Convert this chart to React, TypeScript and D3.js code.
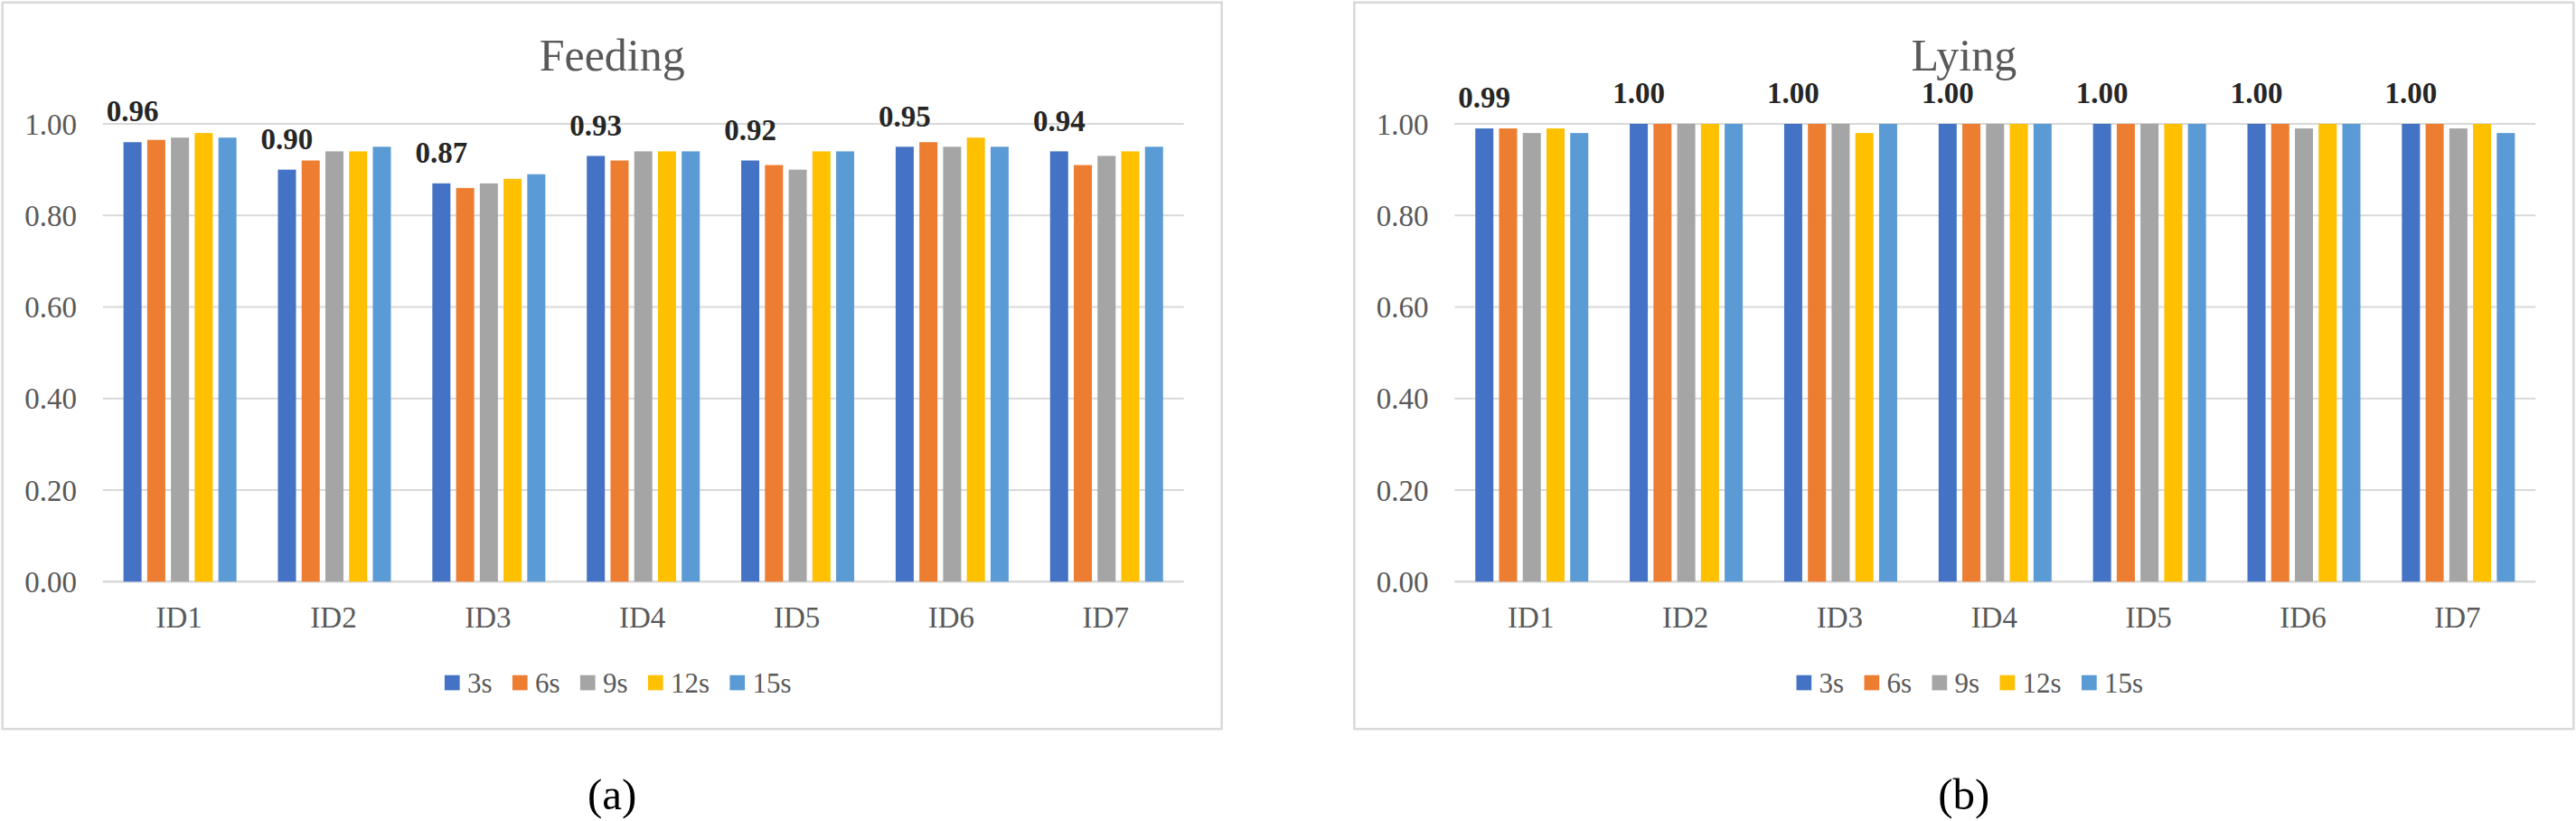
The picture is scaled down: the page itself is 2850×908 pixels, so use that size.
import React from "react";
import * as d3 from "d3";

const categories = ["ID1", "ID2", "ID3", "ID4", "ID5", "ID6", "ID7"];
const seriesNames = ["3s", "6s", "9s", "12s", "15s"];
const seriesColors = ["#4472C4", "#ED7D31", "#A5A5A5", "#FFC000", "#5B9BD5"];
const yTicks = [0, 0.2, 0.4, 0.6, 0.8, 1.0];

const feeding3s = [0.96, 0.9, 0.87, 0.93, 0.92, 0.95, 0.94];
const feeding6s = [0.965, 0.92, 0.86, 0.92, 0.91, 0.96, 0.91];
const feeding9s = [0.97, 0.94, 0.87, 0.94, 0.9, 0.95, 0.93];
const feeding12s = [0.98, 0.94, 0.88, 0.94, 0.94, 0.97, 0.94];
const feeding15s = [0.97, 0.95, 0.89, 0.94, 0.94, 0.95, 0.95];

const lying3s = [0.99, 1, 1, 1, 1, 1, 1];
const lying6s = [0.99, 1, 1, 1, 1, 1, 1];
const lying9s = [0.98, 1, 1, 1, 1, 0.99, 0.99];
const lying12s = [0.99, 1, 0.98, 1, 1, 1, 1];
const lying15s = [0.98, 1, 1, 1, 1, 1, 0.98];

const panels = [
  { title: "Feeding", caption: "(a)", ox: 2.7, series: [feeding3s, feeding6s, feeding9s, feeding12s, feeding15s] },
  { title: "Lying", caption: "(b)", ox: 1498.3, series: [lying3s, lying6s, lying9s, lying12s, lying15s] },
];

const FONT = "'Liberation Serif', 'Times New Roman', serif";

function Panel({ title, caption, ox, series }: any) {
  const panelW = 1349;
  const plotL = ox + 111;
  const plotR = plotL + 1196;
  const y = d3.scaleLinear().domain([0, 1]).range([643.3, 137]);
  const step = (plotR - plotL) / categories.length;
  const pad = 1 - 125 / step;
  const x0 = d3.scaleBand<string>().domain(categories).range([plotL, plotR]).paddingInner(pad).paddingOuter(pad / 2);
  const x1 = d3.scaleBand<string>().domain(seriesNames).range([0, x0.bandwidth()]).paddingInner(1 - 20 / 26.25).paddingOuter(0);
  const cx = ox + panelW / 2;

  // legend layout
  const sq = 16.7;
  const textW = (s: string) => s.length * 15.5 - 3.4;
  let acc = 0;
  const legendItems = seriesNames.map((s, i) => {
    const item = { s, i, off: acc };
    acc += sq + 8.3 + textW(s) + 22.4;
    return item;
  });
  const legendW = acc - 22.4;
  const legendStart = ox + 681 - legendW / 2;

  return (
    <g>
      <rect x={ox} y={2.7} width={panelW} height={803.5} fill="#fff" stroke="#d9d9d9" strokeWidth={2.5} />
      <text x={cx} y={78.3} textAnchor="middle" fontFamily={FONT} fontSize={50} fill="#595959">
        {title}
      </text>
      {yTicks.map((t) => (
        <g key={t}>
          <line x1={plotL} x2={plotR} y1={y(t)} y2={y(t)} stroke="#d9d9d9" strokeWidth={t === 0 ? 2.5 : 2} />
          <text x={plotL - 28.8} y={y(t) + 11.5} textAnchor="end" fontFamily={FONT} fontSize={33} fill="#595959">
            {t.toFixed(2)}
          </text>
        </g>
      ))}
      {categories.map((c, ci) => (
        <g key={c}>
          {seriesNames.map((s, si) => {
            const v = series[si][ci];
            return (
              <rect
                key={s}
                x={(x0(c) as number) + (x1(s) as number)}
                y={y(v)}
                width={x1.bandwidth()}
                height={y(0) - y(v)}
                fill={seriesColors[si]}
              />
            );
          })}
          <text
            x={(x0(c) as number) + (x1(seriesNames[0]) as number) + x1.bandwidth() / 2}
            y={y(series[0][ci]) - 22.8}
            textAnchor="middle"
            fontFamily={FONT}
            fontSize={33}
            fontWeight="bold"
            fill="#262626"
          >
            {series[0][ci].toFixed(2)}
          </text>
          <text
            x={(x0(c) as number) + x0.bandwidth() / 2 - 1}
            y={694}
            textAnchor="middle"
            fontFamily={FONT}
            fontSize={33}
            fill="#595959"
          >
            {c}
          </text>
        </g>
      ))}
      {legendItems.map(({ s, i, off }) => (
        <g key={s}>
          <rect x={legendStart + off} y={746.7} width={sq} height={sq} fill={seriesColors[i]} />
          <text x={legendStart + off + sq + 8.3} y={765.7} fontFamily={FONT} fontSize={31} fill="#595959">
            {s}
          </text>
        </g>
      ))}
      <text x={cx} y={895} textAnchor="middle" fontFamily={FONT} fontSize={49} fill="#000">
        {caption}
      </text>
    </g>
  );
}

export default function App() {
  return (
    <svg
      width={2850}
      height={908}
      viewBox="0 0 2850 908"
      style={{ position: "absolute", left: 0, top: 0, background: "#fff" }}
    >
      <rect x={0} y={0} width={2850} height={908} fill="#fff" />
      {panels.map((p) => (
        <Panel key={p.title} {...p} />
      ))}
    </svg>
  );
}
